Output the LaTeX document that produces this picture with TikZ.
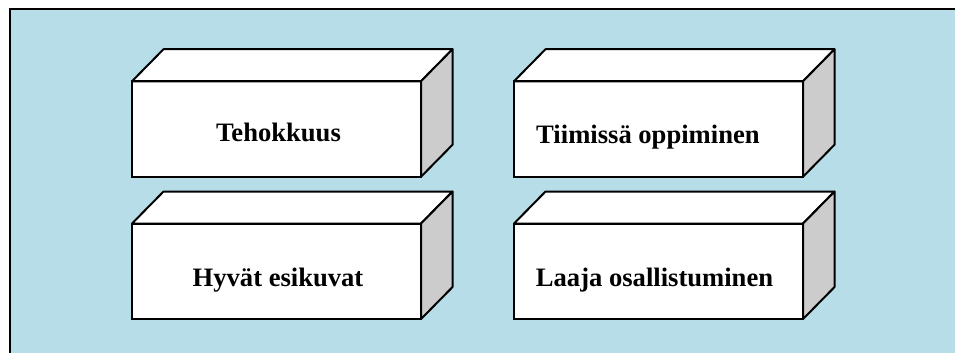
\documentclass[tikz,border=0pt]{standalone}
\usepackage{fontspec}
\setmainfont{Liberation Serif}
\definecolor{bgblue}{HTML}{B7DDE8}
\definecolor{sidegrey}{HTML}{CCCCCC}
\tikzset{
  frontbox/.style={draw=black, fill=white, line width=2pt, minimum width=289pt, minimum height=95.5pt, inner sep=0pt, outer sep=0pt},
  face/.style={draw=black, line width=2pt, line join=round},
  lbl/.style={font=\bfseries\fontsize{26.6}{30}\selectfont, inner sep=0pt},
}
\newcommand{\mycuboid}[3]{%
  \node[frontbox] (#1) at (#2,#3) {};
  \draw[face, fill=white] (#1.north west) -- ++(31.5,-32) -- ([shift={(31.5,-32)}]#1.north east) -- (#1.north east) -- cycle;
  \draw[face, fill=sidegrey] (#1.north east) -- ++(31.5,-32) -- ([shift={(31.5,-32)}]#1.south east) -- (#1.south east) -- cycle;
  \node[frontbox, fill=none] at (#1.center) {};
}
\begin{document}
\begin{tikzpicture}[x=1pt, y=-1pt]
\useasboundingbox (0,0) rectangle (955,353);
\clip (0,0) rectangle (955,353);
\fill[white] (0,0) rectangle (955,353);
\draw[fill=bgblue, draw=black, line width=2pt] (9.5,9.5) rectangle (975,375);
\mycuboid{b1}{276.5}{129}
\mycuboid{b2}{658.5}{129}
\mycuboid{b3}{276.5}{271.3}
\mycuboid{b4}{658.5}{271.3}
\node[lbl, anchor=base] (t1) at (278.5,141.7) {Tehokkuus};
\node[lbl, anchor=base west] (t2) at (536,143.3) {Tiimissä oppiminen};
\node[lbl, anchor=base] (t3) at (278,286) {Hyvät esikuvat};
\node[lbl, anchor=base west] (t4) at (535.7,286) {Laaja osallistuminen};
\end{tikzpicture}
\end{document}
